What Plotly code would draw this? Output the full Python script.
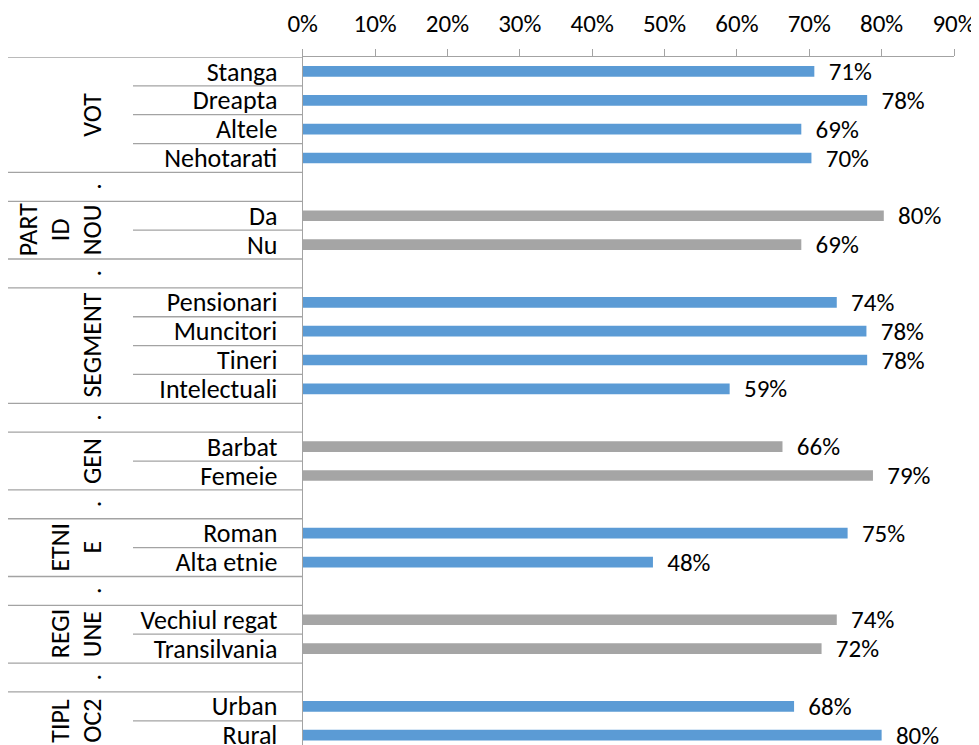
import plotly.graph_objects as go

# Excel-style multi-level category chart: group label, sub-category, share
group_lines = [["VOT"], ["PART", "ID", "NOU"], ["SEGMENT"], ["GEN"],
               ["ETNI", "E"], ["REGI", "UNE"], ["TIPL", "OC2"]]

items = [
    ["Stanga", "Dreapta", "Altele", "Nehotarati"],
    ["Da", "Nu"],
    ["Pensionari", "Muncitori", "Tineri", "Intelectuali"],
    ["Barbat", "Femeie"],
    ["Roman", "Alta etnie"],
    ["Vechiul regat", "Transilvania"],
    ["Urban", "Rural"],
]

values = [
    [0.707, 0.780, 0.689, 0.703],
    [0.803, 0.689],
    [0.738, 0.779, 0.780, 0.590],
    [0.663, 0.788],
    [0.753, 0.484],
    [0.738, 0.717],
    [0.679, 0.800],
]

x_ticks = [0, 0.1, 0.2, 0.3, 0.4, 0.5, 0.6, 0.7, 0.8, 0.9]

BLUE = "#5B9BD5"
GRAY = "#A5A5A5"
LINE = "#A3A3A3"
FONT = "Calibri, Carlito, Lato, sans-serif"
FS_CAT = 26   # category / group labels
FS_NUM = 25   # tick and value labels

# the page body adds an 8px margin, so the figure is drawn 8px smaller
OFF = 8
W, H = 979 - OFF, 745 - OFF
AXIS_X = 302.7 - OFF
X90 = 954 - OFF
TOP = 57 - OFF
ROW = 28.86


def px(p):
    return (p - OFF) / W


# lay the groups out row by row, with a "." spacer row between groups
rows, labels, vals, colors = [], [], [], []
group_spans, spacer_rows = [], []
r = 0
for g, names in enumerate(items):
    start = r
    for name, v in zip(names, values[g]):
        rows.append(r)
        labels.append(name)
        vals.append(v)
        colors.append(BLUE if g % 2 == 0 else GRAY)
        r += 1
    group_spans.append((start, r - 1))
    if g < len(items) - 1:
        spacer_rows.append(r)
        r += 1

tick_rows = list(range(r))
tick_text = ["" for _ in tick_rows]
for row, name in zip(rows, labels):
    tick_text[row] = name

fig = go.Figure()
fig.add_trace(go.Bar(
    x=vals, y=rows, orientation="h",
    marker=dict(color=colors, line=dict(width=0)),
    width=0.37,
    texttemplate="\u00a0\u00a0%{x:.0%}",
    textposition="outside",
    constraintext="none",
    cliponaxis=False,
    textfont=dict(size=FS_NUM, color="black", family=FONT),
    hoverinfo="skip",
    showlegend=False,
))

# grid lines of the label area
shapes = []
boundaries = [-0.5]
for (a, b) in group_spans:
    boundaries += [a - 0.5, b + 0.5]
for y in sorted(set(boundaries)):
    shapes.append(dict(type="line", xref="paper", yref="y", x0=0, x1=AXIS_X / W,
                       y0=y, y1=y, line=dict(color=LINE, width=1.3)))
for (a, b) in group_spans:
    for k in range(a, b):
        shapes.append(dict(type="line", xref="paper", yref="y", x0=px(133), x1=AXIS_X / W,
                           y0=k + 0.5, y1=k + 0.5, line=dict(color=LINE, width=1.3)))

# rotated group labels, each wrapped line in its own column
annotations = []
for lines, (a, b) in zip(group_lines, group_spans):
    n = len(lines)
    for i, txt in enumerate(lines):
        xpx = 92 - (n - 1 - i) * 32
        annotations.append(dict(text=txt, x=px(xpx), y=(a + b) / 2, xref="paper", yref="y",
                                textangle=-90, showarrow=False, xanchor="center", yanchor="middle",
                                font=dict(size=FS_CAT, color="black", family=FONT)))
for s in spacer_rows:
    annotations.append(dict(text=".", x=px(92), y=s, xref="paper", yref="y",
                            textangle=-90, showarrow=False, xanchor="center", yanchor="middle",
                            font=dict(size=FS_CAT, color="black", family=FONT)))

fig.update_layout(
    width=W, height=H,
    margin=dict(l=0, r=0, t=TOP, b=0, autoexpand=False),
    plot_bgcolor="white", paper_bgcolor="white",
    font=dict(family=FONT, size=FS_CAT, color="black"),
    shapes=shapes,
    annotations=annotations,
    xaxis=dict(
        domain=[AXIS_X / W, X90 / W], range=[0, 0.9], side="top",
        tickvals=x_ticks, tickformat=".0%",
        showgrid=False, zeroline=False,
        showline=True, linecolor=LINE, linewidth=1.3,
        ticks="outside", ticklen=7, tickcolor=LINE, tickwidth=1.3,
        ticklabelstandoff=7, ticklabeloverflow="allow",
        tickfont=dict(size=FS_NUM, family=FONT, color="black"),
    ),
    yaxis=dict(
        range=[-0.5 + (H - TOP) / ROW, -0.5],
        tickvals=tick_rows, ticktext=tick_text,
        showgrid=False, zeroline=False,
        showline=True, linecolor=LINE, linewidth=1.3,
        ticks="", ticklabelstandoff=19, ticklabeloverflow="allow",
        tickfont=dict(size=FS_CAT, family=FONT, color="black"),
    ),
)

fig.write_html("out.html")
